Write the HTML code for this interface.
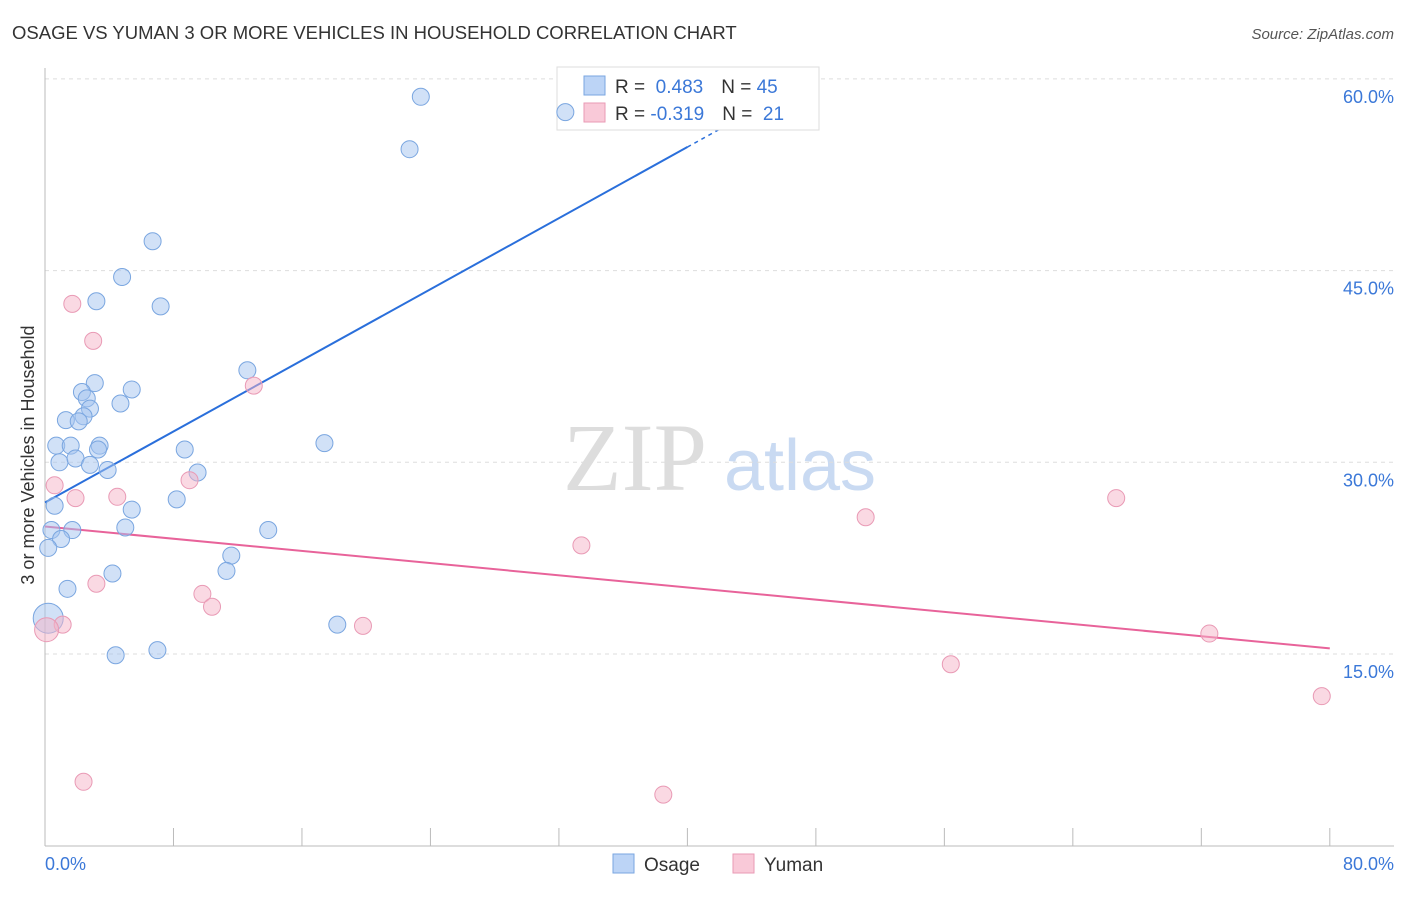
<!DOCTYPE html>
<html><head><meta charset="utf-8"><style>
body{margin:0;background:#fff;font-family:"Liberation Sans",sans-serif;}
</style></head><body>
<svg width="1406" height="892" xmlns="http://www.w3.org/2000/svg" font-family="Liberation Sans, sans-serif">
<text x="12" y="39" font-size="18.5" fill="#333">OSAGE VS YUMAN 3 OR MORE VEHICLES IN HOUSEHOLD CORRELATION CHART</text>
<text x="1394" y="39" font-size="15" fill="#555" font-style="italic" text-anchor="end">Source: ZipAtlas.com</text>
<text x="635" y="490" font-size="96" fill="#ddd" font-family="Liberation Serif, serif" text-anchor="middle">ZIP</text>
<text x="800" y="490" font-size="72" fill="#c9daf2" text-anchor="middle">atlas</text>
<g id="grid"></g>
<g id="axes"></g>
<text transform="translate(34,455) rotate(-90)" font-size="18" fill="#333" text-anchor="middle">3 or more Vehicles in Household</text>
<text x="45" y="870" font-size="18" fill="#3b78d8">0.0%</text>
<text x="1394" y="870" font-size="18" fill="#3b78d8" text-anchor="end">80.0%</text>
<g id="lines"></g>
<g>
<rect x="557" y="67" width="262" height="63" fill="#fff" stroke="#ddd"/>
<rect x="584" y="76" width="21" height="19" fill="#bcd4f6" stroke="#7aa6e0"/>
<rect x="584" y="103" width="21" height="19" fill="#f9c9d8" stroke="#e99ab5"/>
<text x="615" y="93" font-size="19" fill="#333">R = <tspan fill="#3b78d8">&#160;0.483</tspan><tspan dx="18">N = </tspan><tspan fill="#3b78d8">45</tspan></text>
<text x="615" y="120" font-size="19" fill="#333">R = <tspan fill="#3b78d8">-0.319</tspan><tspan dx="18">N = </tspan><tspan fill="#3b78d8">&#160;21</tspan></text>
</g>
<g id="points"></g>
<g>
<rect x="613" y="854" width="21" height="19" fill="#bcd4f6" stroke="#7aa6e0"/>
<text x="644" y="871" font-size="19" fill="#333">Osage</text>
<rect x="733" y="854" width="21" height="19" fill="#f9c9d8" stroke="#e99ab5"/>
<text x="764" y="871" font-size="19" fill="#333">Yuman</text>
</g>
</svg>
<script>
const yTicks=[15,30,45,60];
const osageX=[23.4,22.7,32.4,6.7,4.8,3.2,7.2,12.6,3.1,2.3,5.4,2.6,4.7,2.8,1.3,2.4,2.1,0.7,1.6,3.4,3.3,8.7,17.4,0.9,1.9,2.8,3.9,9.5,8.2,0.6,5.4,5.0,1.7,0.4,13.9,1.0,0.2,11.6,4.2,11.3,1.4,18.2,0.2,4.4,7.0];
const osageY=[58.6,54.5,57.4,47.3,44.5,42.6,42.2,37.2,36.2,35.5,35.7,35.0,34.6,34.2,33.3,33.6,33.2,31.3,31.3,31.3,31.0,31.0,31.5,30.0,30.3,29.8,29.4,29.2,27.1,26.6,26.3,24.9,24.7,24.7,24.7,24.0,23.3,22.7,21.3,21.5,20.1,17.3,17.8,14.9,15.3];
const yumanX=[1.7,3.0,13.0,9.0,0.6,1.9,4.5,51.1,66.7,33.4,3.2,9.8,10.4,1.1,19.8,0.1,72.5,56.4,79.5,2.4,38.5];
const yumanY=[42.4,39.5,36.0,28.6,28.2,27.2,27.3,25.7,27.2,23.5,20.5,19.7,18.7,17.3,17.2,16.9,16.6,14.2,11.7,5.0,4.0];
const X=v=>45+v*16.06, Y=v=>654-(v-15)*12.78;
const NS="http://www.w3.org/2000/svg";
function mk(t,a,p){const e=document.createElementNS(NS,t);for(const k in a)e.setAttribute(k,a[k]);document.getElementById(p).appendChild(e);return e;}
yTicks.forEach(t=>{
 const l=mk('line',{x1:45,x2:1394,y1:Y(t),y2:Y(t),stroke:'#ddd','stroke-dasharray':'4,4'},'grid');
 
 
 const tx=mk('text',{x:1394,y:Y(t)+24,'font-size':18,fill:'#3b78d8','text-anchor':'end'},'grid');
 tx.textContent=t.toFixed(1)+'%';
 
 
});
const ax=mk('line',{x1:45,x2:1394,y1:846,y2:846,stroke:'#bbb'},'axes');


const ay=mk('line',{x1:45,x2:45,y1:68,y2:846,stroke:'#bbb'},'axes');


for(let i=0;i<=10;i++){const t=mk('line',{x1:X(i*8),x2:X(i*8),y1:828,y2:846,stroke:'#bbb'},'axes');
 
 }
function fit(xs,ys){const n=xs.length,mx=xs.reduce((a,b)=>a+b)/n,my=ys.reduce((a,b)=>a+b)/n;let sxy=0,sxx=0;for(let i=0;i<n;i++){sxy+=(xs[i]-mx)*(ys[i]-my);sxx+=(xs[i]-mx)**2;}const b=sxy/sxx;return [my-b*mx,b];}
const [ba,bb]=fit(osageX,osageY);
const bEnd=(60-ba)/bb, bSolid=Math.min(40,bEnd*0.85);
const l1=mk('line',{x1:X(0),y1:Y(ba),x2:X(bSolid),y2:Y(ba+bb*bSolid),stroke:'#2a6fdb','stroke-width':2},'lines');


const l2=mk('line',{x1:X(bSolid),y1:Y(ba+bb*bSolid),x2:X(bEnd),y2:Y(60),stroke:'#2a6fdb','stroke-width':1.5,'stroke-dasharray':'4,4'},'lines');


const [pa,pb]=fit(yumanX,yumanY);
const l3=mk('line',{x1:X(0),y1:Y(pa),x2:X(80),y2:Y(pa+pb*80),stroke:'#e8639a','stroke-width':2},'lines');


osageX.forEach((x,i)=>{const c=mk('circle',{cx:X(x),cy:Y(osageY[i]),r:(i==42?15:8.5),fill:'rgba(164,196,240,0.5)',stroke:'#7aa6e0','stroke-width':1},'points');
 
 });
yumanX.forEach((x,i)=>{const c=mk('circle',{cx:X(x),cy:Y(yumanY[i]),r:(i==15?12:8.5),fill:'rgba(245,180,200,0.5)',stroke:'#e99ab5','stroke-width':1},'points');
 
 });
</script>
</body></html>
